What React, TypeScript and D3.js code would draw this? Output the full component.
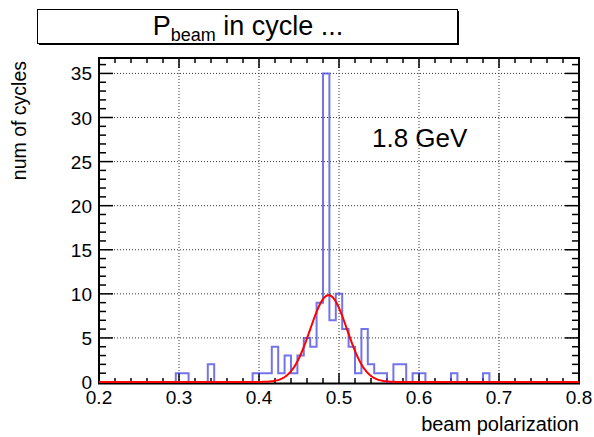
import React, { useEffect, useRef } from 'react'
import * as d3 from 'd3'

// histogram: 75 bins from 0.2 to 0.8
const xMin = 0.2
const xMax = 0.8
const counts = [
  0, 0, 0, 0, 0, 0, 0, 0, 0, 0,
  0, 0, 1, 1, 0, 0, 0, 2, 0, 0,
  0, 0, 0, 0, 1, 1, 1, 4, 1, 3,
  1, 3, 5, 4, 9, 35, 7, 10, 6, 4,
  1, 6, 2, 1, 1, 0, 2, 2, 0, 1,
  1, 0, 0, 0, 0, 1, 0, 0, 0, 0,
  1, 0, 0, 0, 0, 0, 0, 0, 0, 0,
  0, 0, 0, 0, 0,
]
// gaussian fit: constant, mean, sigma
const fitConst = 9.85
const fitMean = 0.487
const fitSigma = 0.023

const xTicks = ['0.2', '0.3', '0.4', '0.5', '0.6', '0.7', '0.8']
const yTicks = ['0', '5', '10', '15', '20', '25', '30', '35']
const yMax = 36.75

export default function App() {
  const svgRef = useRef<SVGSVGElement>(null)

  useEffect(() => {
    const width = 594
    const height = 437
    const left = 99, right = 579, top = 58, bottom = 382
    const font = 'Liberation Sans, Arial, Helvetica, sans-serif'

    const svg = d3.select(svgRef.current)
    svg.selectAll('*').remove()
    svg.attr('width', width).attr('height', height)

    svg.append('rect').attr('width', width).attr('height', height).attr('fill', '#fff')

    const x = d3.scaleLinear().domain([xMin, xMax]).range([left, right])
    const y = d3.scaleLinear().domain([0, yMax]).range([bottom, top])

    // frame
    svg.append('rect')
      .attr('x', left).attr('y', top)
      .attr('width', right - left).attr('height', bottom + 1.5 - top)
      .attr('fill', 'none').attr('stroke', '#000').attr('stroke-width', 2)

    // grid
    const grid = svg.append('g').attr('stroke', '#333').attr('stroke-width', 1).attr('stroke-dasharray', '1,2')
    xTicks.map(Number).filter(v => v > xMin && v < xMax).forEach(v => {
      grid.append('line').attr('x1', x(v)).attr('x2', x(v)).attr('y1', top).attr('y2', bottom)
    })
    yTicks.map(Number).filter(v => v > 0).forEach(v => {
      grid.append('line').attr('x1', left).attr('x2', right).attr('y1', y(v)).attr('y2', y(v))
    })

    // ticks
    const tk = svg.append('g').attr('stroke', '#000').attr('stroke-width', 1.5)
    d3.range(0, 31).forEach(i => {
      const v = x(xMin + i * 0.02)
      const len = i % 5 === 0 ? 10 : 5
      tk.append('line').attr('x1', v).attr('x2', v).attr('y1', bottom + 1).attr('y2', bottom + 1 - len)
      tk.append('line').attr('x1', v).attr('x2', v).attr('y1', top).attr('y2', top + len)
    })
    d3.range(0, 37).forEach(i => {
      const v = y(i)
      const len = i % 5 === 0 ? 14 : 7
      tk.append('line').attr('x1', left).attr('x2', left + len).attr('y1', v).attr('y2', v)
      tk.append('line').attr('x1', right).attr('x2', right - len).attr('y1', v).attr('y2', v)
    })

    // histogram step line
    const bw = (xMax - xMin) / counts.length
    const pts: [number, number][] = [[x(xMin), y(0)]]
    counts.forEach((c, i) => {
      pts.push([x(xMin + i * bw), y(c)])
      pts.push([x(xMin + (i + 1) * bw), y(c)])
    })
    pts.push([x(xMax), y(0)])
    svg.append('path')
      .attr('d', d3.line()(pts))
      .attr('fill', 'none')
      .attr('stroke', '#3f3fe0')
      .attr('stroke-opacity', 0.72)
      .attr('stroke-width', 2)

    // fit curve
    const fx = d3.range(0, 601).map(i => xMin + (xMax - xMin) * i / 600)
    const fitLine = d3.line<number>()
      .x(d => x(d))
      .y(d => y(fitConst * Math.exp(-0.5 * ((d - fitMean) / fitSigma) ** 2)))
    svg.append('path')
      .datum(fx)
      .attr('d', fitLine)
      .attr('fill', 'none')
      .attr('stroke', '#ff0000')
      .attr('stroke-width', 2)

    // tick labels
    xTicks.forEach(t => {
      svg.append('text')
        .attr('x', x(+t)).attr('y', 404)
        .attr('text-anchor', 'middle')
        .attr('font-family', font).attr('font-size', 19)
        .text(t)
    })
    yTicks.forEach(t => {
      svg.append('text')
        .attr('x', 92).attr('y', y(+t) + 7)
        .attr('text-anchor', 'end')
        .attr('font-family', font).attr('font-size', 19)
        .text(t)
    })

    // axis titles
    svg.append('text')
      .attr('x', right).attr('y', 431)
      .attr('text-anchor', 'end')
      .attr('font-family', font).attr('font-size', 20)
      .text('beam polarization')
    svg.append('text')
      .attr('transform', `translate(26,${top + 3}) rotate(-90)`)
      .attr('text-anchor', 'end')
      .attr('font-family', font).attr('font-size', 19.5)
      .text('num of cycles')

    // energy label
    svg.append('text')
      .attr('x', 372).attr('y', 147)
      .attr('font-family', font).attr('font-size', 26)
      .text('1.8 GeV')

    // title box
    svg.append('rect')
      .attr('x', 39).attr('y', 11).attr('width', 420).attr('height', 34)
      .attr('fill', '#000')
    svg.append('rect')
      .attr('x', 37.5).attr('y', 9.5).attr('width', 420).attr('height', 34)
      .attr('fill', '#fff').attr('stroke', '#000').attr('stroke-width', 1)
    const title = svg.append('text')
      .attr('x', 248).attr('y', 35)
      .attr('text-anchor', 'middle')
      .attr('font-family', font).attr('font-size', 27)
    title.append('tspan').text('P')
    title.append('tspan').attr('font-size', 18).attr('dy', 6).text('beam')
    title.append('tspan').attr('dy', -6).text(' in cycle ...')
  }, [])

  return (
    <div style={{ position: 'absolute', left: 0, top: 0 }}>
      <svg ref={svgRef}></svg>
    </div>
  )
}
